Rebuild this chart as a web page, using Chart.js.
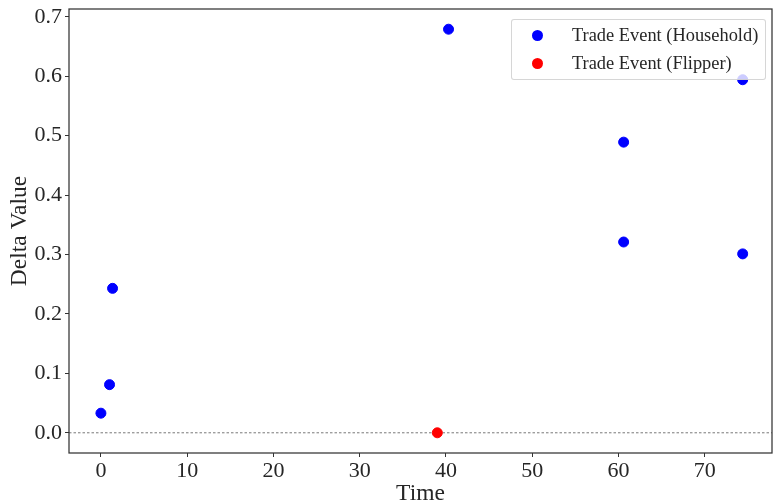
<!DOCTYPE html>
<html lang="en">
<head>
<meta charset="UTF-8">
<title>Trade Events - Delta Value over Time</title>
<script src="https://cdn.jsdelivr.net/npm/chart.js"></script>
<style>
  html, body { margin: 0; padding: 0; background: #fff; }
  #wrap { position: relative; width: 773px; height: 503px; }
  #legend {
    position: absolute;
    box-sizing: border-box;
    background: rgba(255, 255, 255, 0.8);
    border: 1px solid rgba(204, 204, 204, 0.8);
    border-radius: 3px;
    font-family: "Liberation Serif", serif;
    font-size: 18.4px;
    color: #262626;
  }
  #legend .row { position: absolute; left: 0; right: 0; height: 22px; line-height: 22px; white-space: nowrap; }
  #legend .dot { position: absolute; width: 11px; height: 11px; border-radius: 50%; top: 5.5px; left: 20px; }
  #legend .txt { position: absolute; left: 60px; }
</style>
</head>
<body>
<div id="wrap">
  <canvas id="chart" width="773" height="503"></canvas>
  <div id="legend"></div>
</div>
<script>
// Data
const HOUSEHOLD_TIME  = [0.0, 1.0, 1.35, 40.3, 60.6, 60.6, 74.4, 74.4];
const HOUSEHOLD_DELTA = [0.033, 0.081, 0.243, 0.679, 0.489, 0.321, 0.594, 0.301];
const FLIPPER_TIME  = [39.0];
const FLIPPER_DELTA = [0.0];

const SERIES_NAMES  = ['Trade Event (Household)', 'Trade Event (Flipper)'];
const SERIES_COLORS = ['#0000ff', '#ff0000'];

const X_TICKS = [0, 10, 20, 30, 40, 50, 60, 70];
const Y_TICKS = [0.0, 0.1, 0.2, 0.3, 0.4, 0.5, 0.6, 0.7];
const X_RANGE = [-3.7, 77.8];
const Y_RANGE = [-0.034, 0.713];
const REF_LINE = 0.0;

const FONT = '"Liberation Serif", serif';
const INK = '#262626';

function toPoints(xs, ys) {
  return xs.map((x, i) => ({ x: x, y: ys[i] }));
}

// Dashed reference line at zero and the frame around the axes
const axesFrame = {
  id: 'axesFrame',
  beforeDatasetsDraw(chart) {
    const { ctx, chartArea: a, scales } = chart;
    const y0 = scales.y.getPixelForValue(REF_LINE);
    ctx.save();
    ctx.strokeStyle = '#555';
    ctx.lineWidth = 0.8;
    ctx.setLineDash([2.5, 2]);
    ctx.beginPath();
    ctx.moveTo(a.left, y0);
    ctx.lineTo(a.right, y0);
    ctx.stroke();
    ctx.setLineDash([]);
    ctx.strokeStyle = '#333';
    ctx.lineWidth = 1.25;
    ctx.strokeRect(a.left, a.top, a.right - a.left, a.bottom - a.top);
    ctx.restore();
  }
};

// HTML legend box placed in the upper right corner of the plot area
const htmlLegend = {
  id: 'htmlLegend',
  afterRender(chart) {
    const box = document.getElementById('legend');
    const a = chart.chartArea;
    box.style.left = (a.right - 261) + 'px';
    box.style.top = (a.top + 10) + 'px';
    box.style.width = '255px';
    box.style.height = '61px';
    box.innerHTML = chart.data.datasets.map((ds, i) =>
      '<div class="row" style="top:' + (4 + i * 28) + 'px">' +
      '<span class="dot" style="background:' + ds.backgroundColor + '"></span>' +
      '<span class="txt">' + ds.label + '</span></div>'
    ).join('');
  }
};

new Chart(document.getElementById('chart'), {
  type: 'scatter',
  data: {
    datasets: [
      {
        label: SERIES_NAMES[0],
        data: toPoints(HOUSEHOLD_TIME, HOUSEHOLD_DELTA),
        backgroundColor: SERIES_COLORS[0],
        borderColor: SERIES_COLORS[0],
        pointRadius: 5,
        pointBorderWidth: 1
      },
      {
        label: SERIES_NAMES[1],
        data: toPoints(FLIPPER_TIME, FLIPPER_DELTA),
        backgroundColor: SERIES_COLORS[1],
        borderColor: SERIES_COLORS[1],
        pointRadius: 5,
        pointBorderWidth: 1
      }
    ]
  },
  options: {
    responsive: false,
    devicePixelRatio: 1,
    animation: false,
    layout: { autoPadding: false, padding: { left: 0, top: 9, right: 1, bottom: 0 } },
    plugins: {
      legend: { display: false },
      tooltip: { enabled: false }
    },
    scales: {
      x: {
        type: 'linear',
        min: X_RANGE[0],
        max: X_RANGE[1],
        afterBuildTicks: (scale) => { scale.ticks = X_TICKS.map(v => ({ value: v })); },
        afterFit: (scale) => { scale.height = 50; scale.paddingLeft = 0; scale.paddingRight = 0; },
        border: { display: false },
        grid: { drawOnChartArea: false, drawTicks: true, tickLength: 4, tickColor: '#333', tickWidth: 1 },
        ticks: { color: INK, font: { family: FONT, size: 22 }, padding: 1, maxRotation: 0 },
        title: { display: true, text: 'Time', color: INK, font: { family: FONT, size: 23.5, lineHeight: 0.75 }, padding: { top: 0, bottom: 0 } }
      },
      y: {
        type: 'linear',
        min: Y_RANGE[0],
        max: Y_RANGE[1],
        afterBuildTicks: (scale) => { scale.ticks = Y_TICKS.map(v => ({ value: v })); },
        afterFit: (scale) => { scale.width = 69; scale.paddingTop = 0; scale.paddingBottom = 0; },
        border: { display: false },
        grid: { drawOnChartArea: false, drawTicks: true, tickLength: 4, tickColor: '#333', tickWidth: 1 },
        ticks: { color: INK, font: { family: FONT, size: 22 }, padding: 3, callback: (v) => Number(v).toFixed(1) },
        title: { display: true, text: 'Delta Value', color: INK, font: { family: FONT, size: 23.5, lineHeight: 1 }, padding: { top: 8, bottom: 0 } }
      }
    }
  },
  plugins: [axesFrame, htmlLegend]
});
</script>
</body>
</html>
